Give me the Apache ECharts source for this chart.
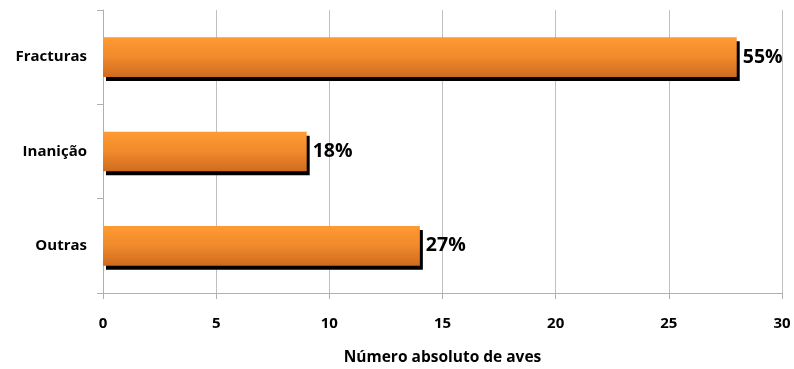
<!DOCTYPE html>
<html>
<head>
<meta charset="utf-8">
<script src="https://cdn.jsdelivr.net/npm/echarts@6/dist/echarts.min.js"></script>
<style>
  html, body { margin: 0; padding: 0; background: #fff; }
  #chart { width: 794px; height: 369px; }
</style>
</head>
<body>
<div id="chart"></div>
<script>
// Causes of death, absolute number of birds
const categories = ['Fracturas', 'Inanição', 'Outras'];
const counts = [28, 9, 14];
const percentLabels = ['55%', '18%', '27%'];
const xTicks = [0, 5, 10, 15, 20, 25, 30];

const FONT = '"Open Sans", "Liberation Sans", sans-serif';

const chart = echarts.init(document.getElementById('chart'));
chart.setOption({
  animation: false,
  grid: { left: 103, right: 12, top: 10, bottom: 76, outerBoundsMode: 'none' },
  xAxis: {
    type: 'value',
    min: xTicks[0],
    max: xTicks[xTicks.length - 1],
    interval: 5,
    name: 'Número absoluto de aves',
    nameLocation: 'middle',
    nameGap: 57,
    nameMoveOverlap: false,
    nameTextStyle: { fontFamily: FONT, fontWeight: 'bold', fontSize: 15.5, color: '#000' },
    axisLine: { show: true, lineStyle: { color: '#b0b0b0' } },
    axisTick: { show: true, length: 6, lineStyle: { color: '#b0b0b0' } },
    axisLabel: { fontFamily: FONT, fontWeight: 'bold', fontSize: 15, color: '#000', margin: 23 },
    splitLine: { show: true, lineStyle: { color: '#c0c0c0' } }
  },
  yAxis: {
    type: 'category',
    inverse: true,
    data: categories,
    axisLine: { show: true, lineStyle: { color: '#b0b0b0' } },
    axisTick: { show: true, length: 6, lineStyle: { color: '#b0b0b0' } },
    axisLabel: { fontFamily: FONT, fontWeight: 'bold', fontSize: 15, color: '#000', margin: 16 }
  },
  series: [{
    type: 'bar',
    data: counts,
    barWidth: '42%',
    itemStyle: {
      color: new echarts.graphic.LinearGradient(0, 0, 0, 1, [
        { offset: 0, color: '#FF9A33' },
        { offset: 0.5, color: '#F08A2C' },
        { offset: 1, color: '#CF6B1E' }
      ]),
      shadowColor: '#000',
      shadowBlur: 0,
      shadowOffsetX: 3,
      shadowOffsetY: 4
    },
    label: {
      show: true,
      position: 'right',
      distance: 6,
      fontFamily: FONT,
      fontWeight: 'bold',
      fontSize: 19.5,
      color: '#000',
      formatter: p => percentLabels[p.dataIndex]
    }
  }]
});
</script>
</body>
</html>
